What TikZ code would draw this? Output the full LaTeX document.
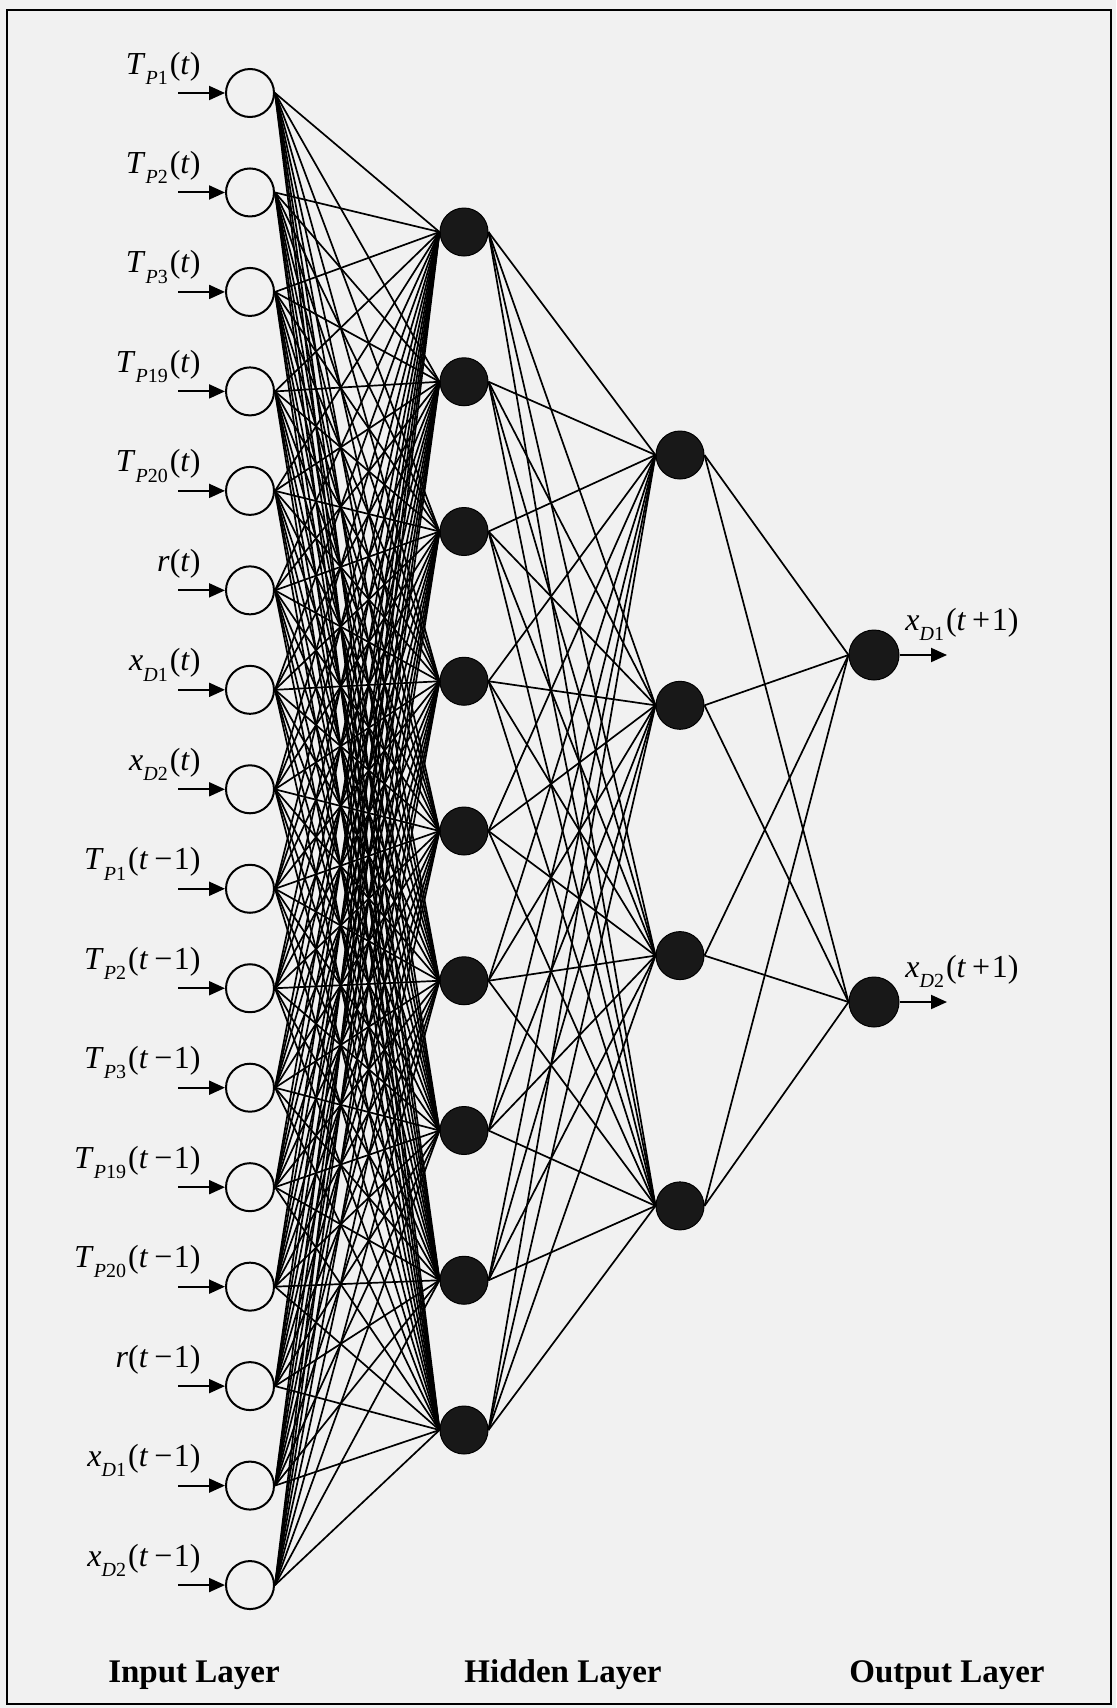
\documentclass[tikz,border=0pt]{standalone}
\usepackage{fontspec}
\setmainfont{Liberation Serif}
\usetikzlibrary{arrows.meta}
\definecolor{bg}{RGB}{241,241,241}
\definecolor{nodefill}{RGB}{24,24,24}
\newcommand{\sublab}[1]{\raisebox{-0.32em}{\fontsize{10}{10}\selectfont #1}}
\newcommand{\vn}[3]{\textit{#1}\sublab{#2}\kern1pt(#3)}
\newcommand{\ti}{\textit{t}}
\newcommand{\tmo}{\textit{t}\kern3pt−\kern0.8pt1}
\newcommand{\tpo}{\textit{t}\kern3pt+\kern0.8pt1}
\begin{document}
\begin{tikzpicture}[x=0.5pt,y=-0.5pt,
  inp/.style={circle,draw,line width=1pt,fill=bg,minimum size=24pt,inner sep=0pt},
  hid/.style={circle,fill=nodefill,draw=black,line width=0.5pt,minimum size=24pt,inner sep=0pt},
  outn/.style={circle,fill=nodefill,draw=black,line width=0.5pt,minimum size=25pt,inner sep=0pt},
  edge/.style={line width=0.85pt},
  arr/.style={line width=1pt,-{Triangle[length=8pt,width=7pt]}},
  inlab/.style={anchor=base east,inner sep=0pt,font=\fontsize{16}{18}\selectfont},
  outlab/.style={anchor=base west,inner sep=0pt,font=\fontsize{16}{18}\selectfont},
  layer/.style={anchor=base,inner sep=0pt,font=\fontsize{16.5}{18}\selectfont\bfseries}]
\fill[bg] (0,0) rectangle (1116,1708);
\useasboundingbox (0,0) rectangle (1116,1708);
\draw[line width=1.3pt] (7,10) rectangle (1111,1704);
% input layer
\foreach \i/\lab in {
  0/{\vn{T}{\textit{P}1}{\ti}},
  1/{\vn{T}{\textit{P}2}{\ti}},
  2/{\vn{T}{\textit{P}3}{\ti}},
  3/{\vn{T}{\textit{P}19}{\ti}},
  4/{\vn{T}{\textit{P}20}{\ti}},
  5/{\textit{r}(\ti)},
  6/{\vn{x}{\textit{D}1}{\ti}},
  7/{\vn{x}{\textit{D}2}{\ti}},
  8/{\vn{T}{\textit{P}1}{\tmo}},
  9/{\vn{T}{\textit{P}2}{\tmo}},
  10/{\vn{T}{\textit{P}3}{\tmo}},
  11/{\vn{T}{\textit{P}19}{\tmo}},
  12/{\vn{T}{\textit{P}20}{\tmo}},
  13/{\textit{r}(\tmo)},
  14/{\vn{x}{\textit{D}1}{\tmo}},
  15/{\vn{x}{\textit{D}2}{\tmo}}}{
  \pgfmathsetmacro{\yy}{93+99.47*\i}
  \node[inp] (in\i) at (250,\yy) {};
  \coordinate (s\i) at (178,\yy);
  \node[inlab] (l\i) at (201,\yy-19) {\lab};
}
% hidden layer 1
\foreach \j in {0,...,8}{
  \node[hid] (h\j) at (464,232+149.75*\j) {};
}
% hidden layer 2
\foreach \k in {0,...,3}{
  \node[hid] (g\k) at (680,455+250.3*\k) {};
}
% output layer
\node[outn] (o0) at (874,655) {};
\node[outn] (o1) at (874,1002) {};
\coordinate (e0) at (947,655);
\coordinate (e1) at (947,1002);
\node[outlab] (ol0) at (905,630) {\vn{x}{\textit{D}1}{\tpo}};
\node[outlab] (ol1) at (905,977) {\vn{x}{\textit{D}2}{\tpo}};
% connections
\foreach \i in {0,...,15}{
  \foreach \j in {0,...,8}{
    \draw[edge] (in\i.east) -- (h\j.west);
  }
  \draw[arr] (s\i) -- (in\i.west);
}
\foreach \j in {0,...,8}{
  \foreach \k in {0,...,3}{
    \draw[edge] (h\j.east) -- (g\k.west);
  }
}
\foreach \k in {0,...,3}{
  \draw[edge] (g\k.east) -- (o0.west);
  \draw[edge] (g\k.east) -- (o1.west);
}
\draw[arr] (o0.east) -- (e0);
\draw[arr] (o1.east) -- (e1);
% layer titles
\node[layer] (t1) at (194,1682) {Input Layer};
\node[layer] (t2) at (563,1682) {Hidden Layer};
\node[layer] (t3) at (947,1682) {Output Layer};
\end{tikzpicture}
\end{document}
